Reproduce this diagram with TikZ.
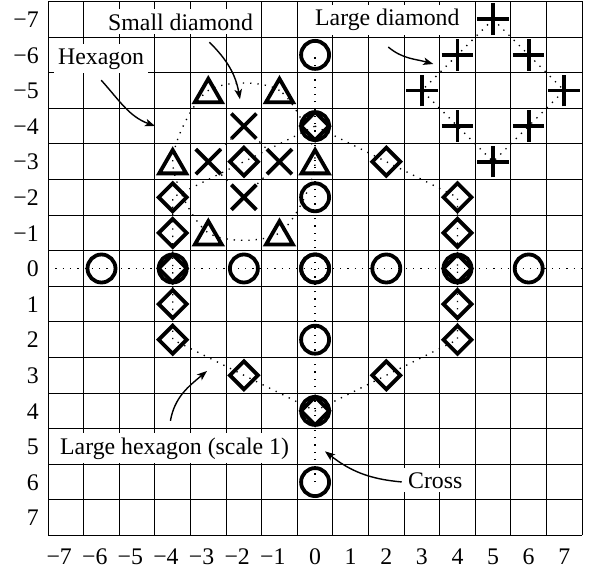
\documentclass[tikz,border=0pt]{standalone}
\usepackage{fontspec}
\setmainfont{Liberation Serif}
\usetikzlibrary{arrows.meta,calc}
\tikzset{
  gridline/.style={line width=0.8pt},
  dotline/.style={line width=1.3pt,dash pattern=on 1.3pt off 6pt},
  mk/.style={line width=3.8pt},
  lbl/.style={fill=white,inner sep=4pt,anchor=base west},
  rowlab/.style={anchor=base east,inner sep=0pt},
  collab/.style={anchor=base,inner sep=0pt},
  arr/.style={line width=1.4pt,-{Stealth[length=10pt,width=7.5pt,inset=2.5pt]}},
  circmark/.pic={\draw[mk] (0,0) circle[radius=14pt];},
  diamark/.pic={\draw[mk] (14pt,0)--(0,14pt)--(-14pt,0)--(0,-14pt)--cycle;},
  trimark/.pic={\draw[mk] (0,11.7pt)--(13.5pt,-11.7pt)--(-13.5pt,-11.7pt)--cycle;},
  crossmark/.pic={\draw[mk] (-12.5pt,-12.5pt)--(12.5pt,12.5pt) (-12.5pt,12.5pt)--(12.5pt,-12.5pt);},
  plusmark/.pic={\draw[mk] (-15.8pt,0)--(15.8pt,0) (0,-15.8pt)--(0,15.8pt);},
}
\begin{document}
\begin{tikzpicture}[x=35.6pt,y=35.6pt,font=\fontsize{23.8}{28}\selectfont]
\useasboundingbox (-8.851,-8.469) rectangle (7.694,7.542);
% grid
\foreach \k in {-7.5,-6.5,...,7.6}{
  \draw[gridline] (\k,-7.5) -- (\k,7.5);
  \draw[gridline] (-7.5,\k) -- (7.5,\k);
}
% axis labels
\foreach \r in {-7,...,7}{
  \node[rowlab] (row\r) at (-7.756,{-\r-0.23}) {\ifnum\r<0 −\number\numexpr-\r\relax\else\r\fi};
  \node[collab] (col\r) at (\r,-8.32) {\ifnum\r<0 \llap{−}\number\numexpr-\r\relax\else\r\fi};
}
% cross
\draw[dotline] (-7.5,0) -- (7.5,0);
\draw[dotline] (0,-6) -- (0,6);
\foreach \c in {-6,-4,...,6}{
  \pic at (\c,0) {circmark};
  \pic at (0,\c) {circmark};
}
% large hexagon
\draw[dotline] (0,4)--(4,2)--(4,-2)--(0,-4)--(-4,-2)--(-4,2)--cycle;
\foreach \p in {(0,4),(2,3),(4,2),(4,1),(4,0),(4,-1),(4,-2),(2,-3),(0,-4),(-2,-3),(-4,-2),(-4,-1),(-4,0),(-4,1),(-4,2),(-2,3)}
  \pic at \p {diamark};
% hexagon
\draw[dotline] plot[smooth cycle] coordinates {(0,3) (-1,5) (-3,5) (-4,3) (-3,1) (-1,1)};
\foreach \p in {(0,3),(-1,5),(-3,5),(-4,3),(-3,1),(-1,1)}
  \pic at \p {trimark};
% small diamond
\draw[dotline] (-2,4)--(-1,3)--(-2,2)--(-3,3)--cycle;
\foreach \p in {(-2,4),(-1,3),(-2,2),(-3,3)}
  \pic at \p {crossmark};
% large diamond
\draw[dotline] (5,7)--(6,6)--(7,5)--(6,4)--(5,3)--(4,4)--(3,5)--(4,6)--cycle;
\foreach \p in {(5,7),(6,6),(7,5),(6,4),(5,3),(4,4),(3,5),(4,6)}
  \pic at \p {plusmark};
% labels
\node[lbl] (sdlab) at (-5.93,6.699) {Small diamond};
\node[lbl] (hexlab) at (-7.334,5.744) {Hexagon};
\node[lbl] (ldlab) at (-0.115,6.812) {Large diamond};
\node[lbl] (lhlab) at (-7.278,-5.211) {Large hexagon (scale 1)};
\node[lbl] (crlab) at (2.497,-6.166) {Cross};
% arrow targets
\coordinate (sdtip) at (-2.11,4.753);
\coordinate (hextip) at (-4.497,4.003);
\coordinate (ldtip) at (3.32,5.744);
\coordinate (lhtip) at (-3.037,-2.879);
\coordinate (crtip) at (0.278,-5.135);
% arrows
\draw[arr] ([xshift=28.8pt,yshift=-7.7pt]sdlab.south) to[out=-45,in=100] (sdtip);
\draw[arr] ([yshift=-6.8pt]hexlab.south) to[out=-48,in=160] (hextip);
\draw[arr] ([xshift=0.9pt,yshift=-11.7pt]ldlab.south) to[out=-40,in=164] (ldtip);
\draw[arr] ([xshift=-4.2pt,yshift=12.5pt]lhlab.north) to[out=80,in=220] (lhtip);
\draw[arr] ([xshift=-2.3pt,yshift=-1.7pt]crlab.west) to[out=175,in=-38] (crtip);
\end{tikzpicture}
\end{document}
